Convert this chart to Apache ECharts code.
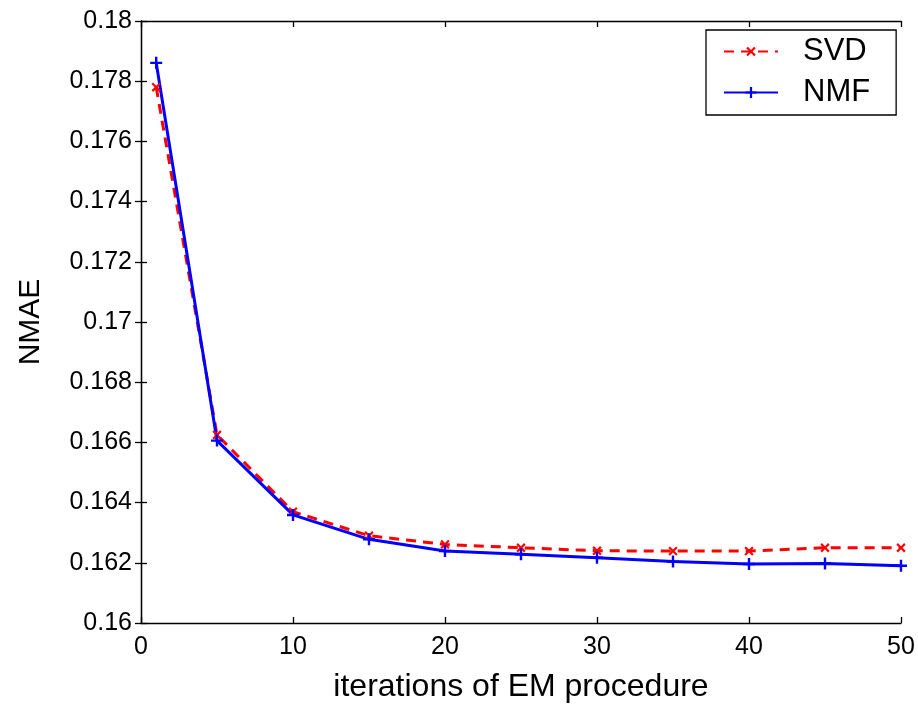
<!DOCTYPE html>
<html><head><meta charset="utf-8">
<script src="https://cdn.jsdelivr.net/npm/echarts@6/dist/echarts.min.js"></script>
<style>html,body{margin:0;padding:0;background:#fff}#c{width:918px;height:704px}</style>
</head><body><div id="c"></div>
<script>
const iterations = [1, 5, 10, 15, 20, 25, 30, 35, 40, 45, 50];
const svdValues = [0.1778, 0.16625, 0.1637, 0.1629, 0.16261, 0.1625, 0.1624, 0.16239, 0.16239, 0.1625, 0.1625];
const nmfValues = [0.17861, 0.16606, 0.16359, 0.16278, 0.16239, 0.16228, 0.16217, 0.16204, 0.16196, 0.16198, 0.1619];
const xTicks = [0, 10, 20, 30, 40, 50];
const yTicks = [0.16, 0.162, 0.164, 0.166, 0.168, 0.17, 0.172, 0.174, 0.176, 0.178, 0.18];

const FONT = 'Liberation Sans';
const plusPath = 'path://M4,0h2v4h4v2h-4v4h-2v-4h-4v-2h4z';
const chart = echarts.init(document.getElementById('c'));
const axisCommon = {
  axisLine: {show: true, lineStyle: {color: '#000', width: 1.3}},
  axisTick: {show: true, inside: true, length: 6, lineStyle: {color: '#000', width: 1.3}},
  splitLine: {show: false}
};
chart.setOption({
  animation: false,
  backgroundColor: '#fff',
  grid: {left: 141, right: 17, top: 21, bottom: 81, containLabel: false, outerBoundsMode: 'none'},
  legend: {
    left: 706, top: 30,
    orient: 'vertical',
    backgroundColor: '#fff', borderColor: '#000', borderWidth: 1.3, borderRadius: 0,
    padding: [6, 26, 7, 17], itemGap: 10, itemWidth: 54, itemHeight: 14,
    textStyle: {fontFamily: FONT, fontSize: 31, color: '#000', padding: [0, 0, 0, 20]},
    data: ['SVD', 'NMF']
  },
  xAxis: [
    Object.assign({}, axisCommon, {
      type: 'value', position: 'bottom', min: 0, max: 50, interval: 10,
      axisLabel: {fontFamily: FONT, fontSize: 25, color: '#000', margin: 12,
        customValues: xTicks},
      name: 'iterations of EM procedure', nameLocation: 'middle', nameGap: 48,
      nameTextStyle: {fontFamily: FONT, fontSize: 32, color: '#000'}
    }),
    Object.assign({}, axisCommon, {
      type: 'value', position: 'top', min: 0, max: 50, interval: 10,
      axisLabel: {show: false}
    })
  ],
  yAxis: [
    Object.assign({}, axisCommon, {
      type: 'value', position: 'left', min: 0.16, max: 0.18, interval: 0.002,
      axisLabel: {fontFamily: FONT, fontSize: 25, color: '#000', margin: 9,
        customValues: yTicks,
        formatter: v => String(+v.toFixed(3))},
      name: 'NMAE', nameLocation: 'middle', nameGap: 95, nameRotate: 90,
      nameTextStyle: {fontFamily: FONT, fontSize: 30, color: '#000'}
    }),
    Object.assign({}, axisCommon, {
      type: 'value', position: 'right', min: 0.16, max: 0.18, interval: 0.002,
      axisLabel: {show: false}
    })
  ],
  series: [
    {
      name: 'SVD', type: 'line', xAxisIndex: 0, yAxisIndex: 0,
      data: iterations.map((x, i) => [x, svdValues[i]]),
      lineStyle: {color: '#ff0000', width: 3, type: [10, 7]},
      itemStyle: {color: '#ff0000'},
      symbol: plusPath, symbolRotate: 45, symbolSize: 11, showSymbol: true
    },
    {
      name: 'NMF', type: 'line', xAxisIndex: 0, yAxisIndex: 0,
      data: iterations.map((x, i) => [x, nmfValues[i]]),
      lineStyle: {color: '#0000ff', width: 3},
      itemStyle: {color: '#0000ff'},
      symbol: plusPath, symbolSize: 12, showSymbol: true
    }
  ]
});
</script></body></html>
